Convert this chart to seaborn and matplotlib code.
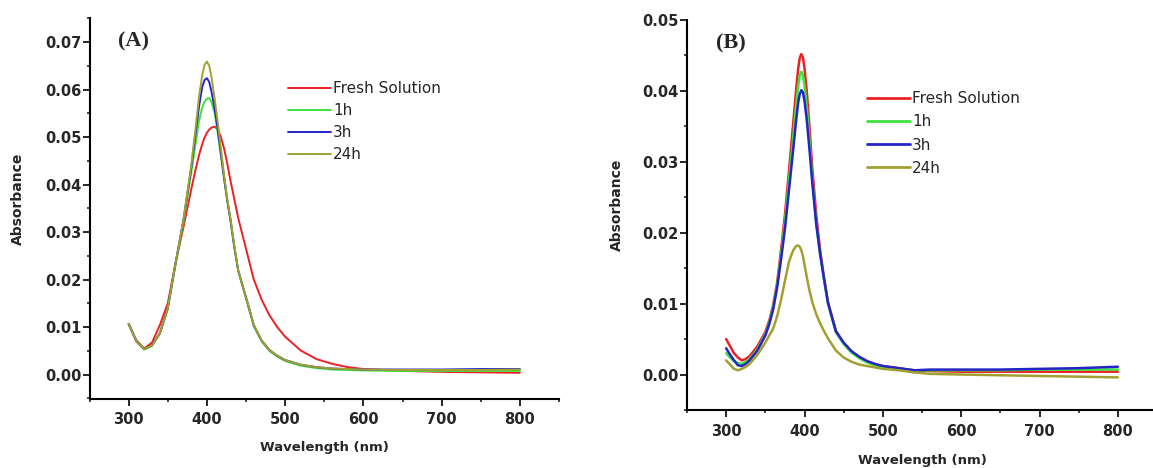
import pandas as pd
import numpy as np
import matplotlib
matplotlib.use("Agg")
import matplotlib.pyplot as plt
import seaborn as sns
from matplotlib.ticker import MultipleLocator, FormatStrFormatter

# ---------------------------------------------------------
# Data (absorbance vs wavelength)
# ---------------------------------------------------------
series_names = ["Fresh Solution", "1h", "3h", "24h"]

wl_a = [300, 310, 320, 330, 340, 350, 360, 370, 380,
        385, 390, 394, 397, 400, 403, 406, 410,
        414, 418, 422, 426, 430, 435, 440,
        450, 460, 470, 480, 490, 500,
        520, 540, 560, 580, 600,
        650, 700, 750, 800]
fresh_a = [0.0107, 0.0072, 0.0055, 0.0068, 0.0105, 0.0150, 0.0235, 0.0310, 0.0390,
           0.0428, 0.0462, 0.0485, 0.0499, 0.0509, 0.0516, 0.0520, 0.0522,
           0.0516, 0.0500, 0.0476, 0.0445, 0.0410, 0.0370, 0.0330,
           0.0265, 0.0200, 0.0158, 0.0125, 0.0100, 0.0080,
           0.0051, 0.0033, 0.0023, 0.0016, 0.0012,
           0.0008, 0.0006, 0.0005, 0.0004]
h1_a = [0.0107, 0.0070, 0.0053, 0.0061, 0.0086, 0.0138, 0.0232, 0.0320, 0.0425,
        0.0480, 0.0535, 0.0562, 0.0575, 0.0581, 0.0582, 0.0573, 0.0550,
        0.0508, 0.0460, 0.0412, 0.0365, 0.0325, 0.0268, 0.0218,
        0.0160, 0.0102, 0.0070, 0.0050, 0.0038, 0.0029,
        0.0019, 0.0014, 0.0011, 0.0010, 0.0009,
        0.0008, 0.0008, 0.0008, 0.0008]
h3_a = [0.0107, 0.0070, 0.0054, 0.0062, 0.0088, 0.0140, 0.0235, 0.0325, 0.0435,
        0.0500, 0.0565, 0.0605, 0.0620, 0.0624, 0.0616, 0.0595, 0.0560,
        0.0515, 0.0465, 0.0415, 0.0368, 0.0328, 0.0270, 0.0220,
        0.0163, 0.0104, 0.0072, 0.0052, 0.0040, 0.0031,
        0.0021, 0.0016, 0.0013, 0.0012, 0.0011,
        0.0011, 0.0011, 0.0012, 0.0012]
h24_a = [0.0107, 0.0070, 0.0054, 0.0062, 0.0088, 0.0140, 0.0235, 0.0325, 0.0440,
         0.0510, 0.0585, 0.0630, 0.0652, 0.0659, 0.0650, 0.0625, 0.0580,
         0.0530, 0.0475, 0.0420, 0.0370, 0.0330, 0.0272, 0.0220,
         0.0163, 0.0105, 0.0072, 0.0052, 0.0040, 0.0031,
         0.0021, 0.0016, 0.0013, 0.0012, 0.0011,
         0.0010, 0.0010, 0.0010, 0.0011]

wl_b = [300, 305, 310, 315, 320, 325, 330,
        340, 350, 355, 360, 365, 370, 375, 380,
        383, 386, 389, 392, 394, 396, 398, 400,
        403, 406, 410, 415, 420, 425, 430,
        440, 450, 460, 470, 480, 490, 500,
        520, 540, 560, 600,
        650, 700, 750, 800]
fresh_b = [0.0050, 0.0040, 0.0030, 0.0024, 0.0020, 0.0022, 0.0026,
           0.0040, 0.0060, 0.0076, 0.0098, 0.0129, 0.0175, 0.0225, 0.0285,
           0.0322, 0.0360, 0.0398, 0.0432, 0.0447, 0.0452, 0.0447, 0.0432,
           0.0398, 0.0355, 0.0290, 0.0225, 0.0175, 0.0135, 0.0102,
           0.0062, 0.0044, 0.0032, 0.0024, 0.0018, 0.0014, 0.0012,
           0.0009, 0.0006, 0.0005, 0.0004,
           0.0004, 0.0004, 0.0004, 0.0004]
h1_b = [0.0030, 0.0024, 0.0019, 0.0016, 0.0015, 0.0018, 0.0022,
        0.0036, 0.0057, 0.0073, 0.0095, 0.0125, 0.0168, 0.0215, 0.0272,
        0.0305, 0.0340, 0.0376, 0.0408, 0.0422, 0.0427, 0.0422, 0.0408,
        0.0376, 0.0336, 0.0275, 0.0213, 0.0168, 0.0133, 0.0100,
        0.0060, 0.0043, 0.0031, 0.0023, 0.0017, 0.0013, 0.0011,
        0.0008, 0.0006, 0.0006, 0.0006,
        0.0006, 0.0007, 0.0007, 0.0007]
h3_b = [0.0037, 0.0028, 0.0020, 0.0013, 0.0012, 0.0015, 0.0020,
        0.0034, 0.0055, 0.0071, 0.0092, 0.0122, 0.0162, 0.0205, 0.0258,
        0.0290, 0.0322, 0.0355, 0.0384, 0.0396, 0.0401, 0.0398, 0.0386,
        0.0358, 0.0322, 0.0270, 0.0212, 0.0170, 0.0135, 0.0101,
        0.0061, 0.0045, 0.0033, 0.0025, 0.0019, 0.0015, 0.0012,
        0.0009, 0.0006, 0.0007, 0.0007,
        0.0007, 0.0008, 0.0009, 0.0011]
h24_b = [0.0020, 0.0014, 0.0008, 0.0006, 0.0008, 0.0011, 0.0015,
         0.0028, 0.0045, 0.0055, 0.0065, 0.0082, 0.0105, 0.0132, 0.0158,
         0.0168, 0.0176, 0.0181, 0.0182, 0.0180, 0.0175, 0.0167, 0.0155,
         0.0137, 0.0120, 0.0102, 0.0085, 0.0072, 0.0061, 0.0051,
         0.0034, 0.0024, 0.0018, 0.0014, 0.0012, 0.0010, 0.0008,
         0.0006, 0.0003, 0.0001, 0.0000,
         -0.0001, -0.0002, -0.0003, -0.0004]

palette = {"Fresh Solution": "#ee2026", "1h": "#3ee23e", "3h": "#2424c8", "24h": "#a3a032"}


def to_long(wl, columns):
    frames = []
    for name, vals in zip(series_names, columns):
        frames.append(pd.DataFrame({"Wavelength": wl, "Absorbance": vals, "Series": name}))
    return pd.concat(frames, ignore_index=True)


df_a = to_long(wl_a, [fresh_a, h1_a, h3_a, h24_a])
df_b = to_long(wl_b, [fresh_b, h1_b, h3_b, h24_b])

sns.set_style("ticks")
plt.rcParams["font.family"] = ["DejaVu Sans"]

W, H = 1153, 468
fig = plt.figure(figsize=(W / 100, H / 100), dpi=100)


def style_panel(ax, ymax, ymin, tag, leg_anchor, leg_spacing, tag_pos, ylab_x, xlab_y, lw):
    sns.despine(ax=ax)
    for s in ("left", "bottom"):
        ax.spines[s].set_linewidth(1.5)
        ax.spines[s].set_color("black")
    ax.set_xlim(250, 850)
    ax.set_ylim(ymin, ymax)
    ax.xaxis.set_major_locator(MultipleLocator(100))
    ax.xaxis.set_minor_locator(MultipleLocator(50))
    ax.yaxis.set_major_locator(MultipleLocator(0.01))
    ax.yaxis.set_minor_locator(MultipleLocator(0.005))
    ax.yaxis.set_major_formatter(FormatStrFormatter("%.2f"))
    ax.set_xticks([300, 400, 500, 600, 700, 800])
    ax.tick_params(which="major", direction="out", length=5, width=1.4, labelsize=10.5)
    ax.tick_params(which="minor", direction="out", length=2.5, width=1.2)
    ax.tick_params(axis="y", which="major", pad=1)
    ax.tick_params(axis="x", which="major", pad=5)
    for lab in ax.get_xticklabels() + ax.get_yticklabels():
        lab.set_fontweight("bold")
    ax.set_xlabel("Wavelength (nm)", fontsize=9.5, fontweight="bold")
    ax.set_ylabel("Absorbance", fontsize=10, fontweight="bold")
    ax.xaxis.set_label_coords(0.5, xlab_y)
    ax.yaxis.set_label_coords(ylab_x, 0.525)
    handles, labels = ax.get_legend_handles_labels()
    ax.legend(handles, labels, loc="upper left", bbox_to_anchor=leg_anchor,
              frameon=False, fontsize=11, handlelength=2.8, handletextpad=0.15,
              labelspacing=leg_spacing, borderpad=0, borderaxespad=0)
    for line in ax.get_legend().get_lines():
        line.set_linewidth(lw)
    ax.text(tag_pos[0], tag_pos[1], tag, transform=ax.transAxes, ha="center", va="center",
            fontsize=16, fontweight="bold", family="Liberation Serif")


# Panel A
ax_a = fig.add_axes([89.5 / W, 1 - 398.5 / H, 469.5 / W, 380.2 / H])
sns.lineplot(data=df_a, x="Wavelength", y="Absorbance", hue="Series", hue_order=series_names,
             palette=palette, linewidth=1.4, ax=ax_a)
style_panel(ax_a, 0.075, -0.005, "(A)", (0.423, 0.834), 0.45, (0.093, 0.938), -0.138, -0.112, 1.4)

# Panel B
ax_b = fig.add_axes([687 / W, 1 - 410 / H, 470 / W, 390 / H])
sns.lineplot(data=df_b, x="Wavelength", y="Absorbance", hue="Series", hue_order=series_names,
             palette=palette, linewidth=1.8, ax=ax_b)
style_panel(ax_b, 0.05, -0.005, "(B)", (0.383, 0.817), 0.53, (0.094, 0.941), -0.135, -0.112, 2.0)

fig.patch.set_facecolor("white")
fig.savefig("out.png", dpi=100, facecolor="white")
plt.close()
